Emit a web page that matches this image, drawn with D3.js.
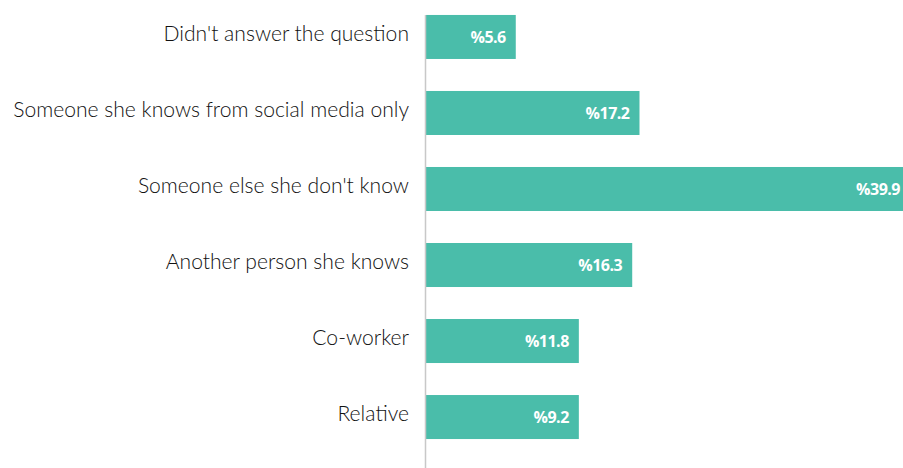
<!DOCTYPE html>
<html>
<head>
<meta charset="utf-8">
<script src="https://cdn.jsdelivr.net/npm/d3@7"></script>
<style>
  body { margin: 0; background: #fff; }
  svg { display: block; }
  .label { font-family: Lato, "Noto Sans", sans-serif; font-weight: 300; font-size: 21.1px; fill: #111; }
  .value { font-family: "Open Sans", sans-serif; font-weight: 700; font-size: 16px; fill: #fff; letter-spacing: -0.5px; }
</style>
</head>
<body>
<div id="chart"></div>
<script>
// categories, top to bottom
var categories = [
  "Didn't answer the question",
  "Someone she knows from social media only",
  "Someone else she don't know",
  "Another person she knows",
  "Co-worker",
  "Relative"
];
// percentages printed on the bars
var values = [5.6, 17.2, 39.9, 16.3, 11.8, 9.2];
// bar lengths as drawn in the picture (same units, they don't follow the labels exactly)
var lengths = [7.4, 17.6, 39.9, 17.0, 12.6, 12.6];

var width = 903, height = 468;
var axisX = 426;

var svg = d3.select("#chart").append("svg")
    .attr("width", width)
    .attr("height", height);

var x = d3.scaleLinear()
    .domain([0, 39.9])
    .range([axisX, 910]);

var y = d3.scaleBand()
    .domain(categories)
    .range([-1, 455])
    .paddingInner(0.421)
    .paddingOuter(0.21);

var rows = categories.map(function(c, i) {
    return { name: c, value: values[i], len: lengths[i] };
});

svg.selectAll(".bar")
    .data(rows)
    .enter().append("rect")
    .attr("class", "bar")
    .attr("x", x(0))
    .attr("y", function(d) { return y(d.name); })
    .attr("width", function(d) { return x(d.len) - x(0); })
    .attr("height", y.bandwidth())
    .attr("fill", "#4abdaa");

// vertical axis line
svg.append("line")
    .attr("x1", axisX - 0.5).attr("x2", axisX - 0.5)
    .attr("y1", y(categories[0])).attr("y2", height)
    .attr("stroke", "#c8c8c8")
    .attr("stroke-width", 1.5);

svg.selectAll(".label")
    .data(rows)
    .enter().append("text")
    .attr("class", "label")
    .attr("x", axisX - 17)
    .attr("y", function(d) { return y(d.name) + y.bandwidth() / 2 - 3; })
    .attr("dy", "0.35em")
    .attr("text-anchor", "end")
    .text(function(d) { return d.name; });

svg.selectAll(".value")
    .data(rows)
    .enter().append("text")
    .attr("class", "value")
    .attr("x", function(d) { return x(d.len) - 10; })
    .attr("y", function(d) { return y(d.name) + y.bandwidth() / 2; })
    .attr("dy", "0.35em")
    .attr("text-anchor", "end")
    .text(function(d) { return "%" + d.value; });
</script>
</body>
</html>
